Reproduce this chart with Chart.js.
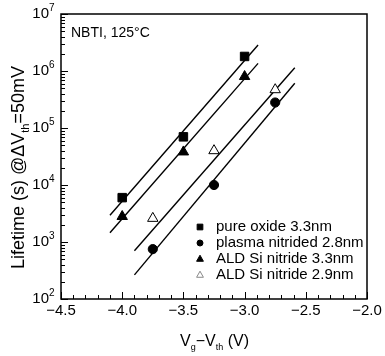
<!DOCTYPE html>
<html lang="en">
<head>
<meta charset="UTF-8">
<title>NBTI lifetime</title>
<script src="https://cdn.jsdelivr.net/npm/chart.js"></script>
<style>
  body { margin: 0; background: #fff; }
  #wrap { width: 385px; height: 356px; }
</style>
</head>
<body>
<div id="wrap"><canvas id="lifeChart" width="385" height="356"></canvas></div>
<script>
// measured points
const seriesNames = ['pure oxide 3.3nm', 'plasma nitrided 2.8nm', 'ALD Si nitride 3.3nm', 'ALD Si nitride 2.9nm'];
const vgOxide = [-4.0, -3.5, -3.0];
const lifeOxide = [6000, 70000, 1800000];
const vgPlasma = [-3.75, -3.25, -2.75];
const lifePlasma = [750, 10000, 280000];
const vgAld33 = [-4.0, -3.5, -3.0];
const lifeAld33 = [2800, 38000, 800000];
const vgAld29 = [-3.75, -3.25, -2.75];
const lifeAld29 = [2600, 40000, 470000];

// fitted lines (end points)
const fitOxideX = [-4.1, -2.89];
const fitOxideY = [2950, 2860000];
const fitPlasmaX = [-3.9, -2.59];
const fitPlasmaY = [265, 610000];
const fitAld33X = [-4.1, -2.89];
const fitAld33Y = [1450, 1360000];
const fitAld29X = [-3.9, -2.59];
const fitAld29Y = [700, 1140000];

const xTicks = [-4.5, -4.0, -3.5, -3.0, -2.5, -2.0];
const yExponents = [2, 3, 4, 5, 6, 7];

const FONT = '"Liberation Sans", Arial, sans-serif';

function pts(xs, ys) { return xs.map((x, i) => ({ x: x, y: ys[i] })); }

function markerSet(label, xs, ys, style, fill, radius) {
    return {
        label: label, data: pts(xs, ys), showLine: false, order: 1,
        pointStyle: style, pointRadius: radius, pointHoverRadius: radius,
        backgroundColor: fill, borderColor: '#000', borderWidth: 1
    };
}
function fitSet(xs, ys) {
    return {
        label: 'fit', data: pts(xs, ys), showLine: true, order: 2,
        pointRadius: 0, borderColor: '#000', borderWidth: 1.4, fill: false
    };
}

const legendMarks = [
    { style: 'rect', fill: '#000', stroke: '#000', r: 3.8 },
    { style: 'circle', fill: '#000', stroke: '#000', r: 3 },
    { style: 'triangle', fill: '#000', stroke: '#000', r: 3.8 },
    { style: 'triangle', fill: '#fff', stroke: '#888', r: 3.8 }
];

const decorations = {
    id: 'decorations',
    afterDraw(chart) {
        const ctx = chart.ctx;
        const a = chart.chartArea;
        const xs = chart.scales.x, ys = chart.scales.y;
        ctx.save();
        ctx.strokeStyle = '#000';
        ctx.lineWidth = 1.5;
        ctx.strokeRect(a.left, a.top, a.right - a.left, a.bottom - a.top);

        // inward ticks, bottom axis
        ctx.lineWidth = 1;
        for (let i = 0; i <= 25; i++) {
            const v = -4.5 + i * 0.1;
            const px = Math.round(xs.getPixelForValue(v)) + 0.5;
            const len = i % 5 === 0 ? 7 : 4;
            ctx.beginPath(); ctx.moveTo(px, a.bottom); ctx.lineTo(px, a.bottom - len); ctx.stroke();
        }
        // inward ticks, left axis
        for (let e = 2; e <= 7; e++) {
            for (let m = 1; m <= 9; m++) {
                if (e === 7 && m > 1) break;
                const py = Math.round(ys.getPixelForValue(m * Math.pow(10, e))) + 0.5;
                const len = m === 1 ? 7 : 4;
                ctx.beginPath(); ctx.moveTo(a.left, py); ctx.lineTo(a.left + len, py); ctx.stroke();
            }
        }

        // y tick labels 10^n
        ctx.fillStyle = '#000';
        ctx.textBaseline = 'middle';
        yExponents.forEach(e => {
            const py = ys.getPixelForValue(Math.pow(10, e));
            ctx.font = '10px ' + FONT;
            ctx.textAlign = 'left';
            ctx.fillText(String(e), 49, py - 6);
            ctx.font = '15px ' + FONT;
            ctx.textAlign = 'right';
            ctx.fillText('10', 49, py);
        });

        // annotation
        ctx.textAlign = 'left';
        ctx.font = '14px ' + FONT;
        ctx.fillText('NBTI, 125°C', 71, 33);

        // x axis title: Vg−Vth (V)
        let x = 180, y = 342;
        const parts = [['V', 0], ['g', 1], ['−V', 0], ['th', 1], [' (V)', 0]];
        parts.forEach(p => {
            ctx.font = (p[1] ? '9px ' : '16px ') + FONT;
            ctx.fillText(p[0], x, y + (p[1] ? 6 : 0));
            x += ctx.measureText(p[0]).width;
        });

        // y axis title, rotated
        ctx.save();
        ctx.translate(19, 269);
        ctx.rotate(-Math.PI / 2);
        const yparts = [['Lifetime (s) @ΔV', 0], ['th', 1], ['=50mV', 0]];
        let yx = 0;
        yparts.forEach(p => {
            ctx.font = (p[1] ? '11px ' : '18px ') + FONT;
            ctx.fillText(p[0], yx, p[1] ? 7 : 0);
            yx += ctx.measureText(p[0]).width;
        });
        ctx.restore();

        // legend inside the plot
        const rowY = [227, 243, 259, 275];
        ctx.lineWidth = 1;
        seriesNames.forEach((name, i) => {
            const m = legendMarks[i];
            ctx.fillStyle = m.fill; ctx.strokeStyle = m.stroke;
            ctx.beginPath();
            if (m.style === 'rect') {
                ctx.rect(200 - m.r * 0.75, rowY[i] - m.r * 0.75, m.r * 1.5, m.r * 1.5);
            } else if (m.style === 'circle') {
                ctx.arc(200, rowY[i], m.r, 0, Math.PI * 2);
            } else {
                ctx.moveTo(200, rowY[i] - m.r);
                ctx.lineTo(200 + m.r * 0.9, rowY[i] + m.r * 0.6);
                ctx.lineTo(200 - m.r * 0.9, rowY[i] + m.r * 0.6);
                ctx.closePath();
            }
            ctx.fill(); ctx.stroke();
            ctx.fillStyle = '#000';
            ctx.font = '15px ' + FONT;
            ctx.textAlign = 'left';
            ctx.fillText(name, 216, rowY[i]);
        });
        ctx.restore();
    }
};

const chart = new Chart(document.getElementById('lifeChart'), {
    type: 'scatter',
    data: {
        datasets: [
            fitSet(fitOxideX, fitOxideY),
            fitSet(fitPlasmaX, fitPlasmaY),
            fitSet(fitAld33X, fitAld33Y),
            fitSet(fitAld29X, fitAld29Y),
            markerSet(seriesNames[0], vgOxide, lifeOxide, 'rect', '#000', 6),
            markerSet(seriesNames[1], vgPlasma, lifePlasma, 'circle', '#000', 4.6),
            markerSet(seriesNames[2], vgAld33, lifeAld33, 'triangle', '#000', 6),
            markerSet(seriesNames[3], vgAld29, lifeAld29, 'triangle', '#fff', 6)
        ]
    },
    options: {
        responsive: false,
        animation: false,
        layout: { padding: { top: 14, right: 18, left: 0, bottom: 0 } },
        plugins: { legend: { display: false }, tooltip: { enabled: false } },
        scales: {
            x: {
                type: 'linear', min: -4.5, max: -2.0,
                afterBuildTicks: s => { s.ticks = xTicks.map(v => ({ value: v })); },
                afterFit: s => { s.height = 57; },
                grid: { display: false, drawTicks: false },
                border: { display: false },
                ticks: {
                    color: '#000', padding: 3,
                    font: { family: FONT, size: 15 },
                    callback: v => v.toFixed(1).replace('-', '−')
                }
            },
            y: {
                type: 'logarithmic', min: 100, max: 10000000,
                afterFit: s => { s.width = 61; },
                grid: { display: false, drawTicks: false },
                border: { display: false },
                ticks: { display: false }
            }
        }
    },
    plugins: [decorations]
});
</script>
</body>
</html>
